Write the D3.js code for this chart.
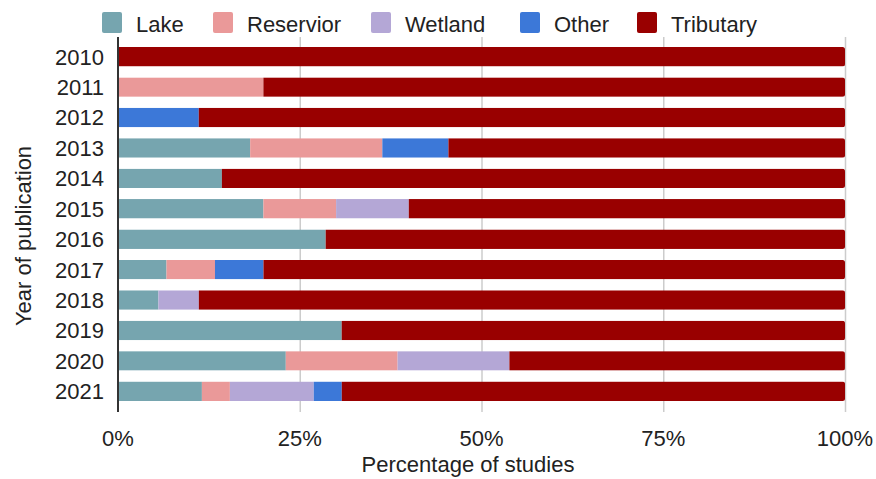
<!DOCTYPE html>
<html><head><meta charset="utf-8">
<script src="https://cdn.jsdelivr.net/npm/d3@7"></script>
<style>body{margin:0;background:#fff}svg{display:block;font-family:"Liberation Sans",Arial,sans-serif}</style>
</head><body><svg id="c" width="876" height="479"></svg>
<script>
const years = ["2010","2011","2012","2013","2014","2015","2016","2017","2018","2019","2020","2021"];
const seriesNames = ["Lake","Reservior","Wetland","Other","Tributary"];
const colors = ["#76a5af","#ea9999","#b4a7d6","#3c78d8","#990000"];
// percentages per year
const lake      = [0, 0, 0, 18.18, 14.29, 20, 28.57, 6.67, 5.56, 30.77, 23.08, 11.54];
const reservior = [0, 20, 0, 18.18, 0, 10, 0, 6.67, 0, 0, 15.38, 3.85];
const wetland   = [0, 0, 0, 0, 0, 10, 0, 0, 5.56, 0, 15.38, 11.54];
const other     = [0, 0, 11.11, 9.09, 0, 0, 0, 6.67, 0, 0, 0, 3.85];
const tributary = [100, 80, 88.89, 54.55, 85.71, 60, 71.43, 80, 88.89, 69.23, 46.15, 69.23];
const xTicks = [0, 25, 50, 75, 100];

const svg = d3.select("#c");
const m = {l:118, r:845, t:37, b:412};
const x = d3.scaleLinear().domain([0,100]).range([m.l, m.r]);
const y = d3.scaleBand().domain(years).range([41.5, 406.5]).paddingInner(0.36).paddingOuter(0.18);

const rows = years.map((yr,i)=>({year:yr, Lake:lake[i], Reservior:reservior[i], Wetland:wetland[i], Other:other[i], Tributary:tributary[i]}));
const stack = d3.stack().keys(seriesNames)(rows);

// grid
svg.append("g").selectAll("line").data(xTicks.slice(1)).join("line")
  .attr("x1",d=>x(d)+0.5).attr("x2",d=>x(d)+0.5).attr("y1",m.t).attr("y2",m.b)
  .attr("stroke","#cccccc").attr("stroke-width",1.5);

// clip paths per row (rounded ends)
const defs = svg.append("defs");
years.forEach((yr,i)=>{
  defs.append("clipPath").attr("id","cp"+i).append("rect")
    .attr("x",x(0)-3).attr("y",y(yr)).attr("width",x(100)-x(0)+3).attr("height",y.bandwidth()).attr("rx",2.5);
});

stack.forEach((s,si)=>{
  svg.append("g").selectAll("rect").data(s).join("rect")
    .attr("clip-path",(d,i)=>`url(#cp${i})`)
    .attr("x",d=>x(d[0])).attr("width",d=>Math.max(0,x(d[1])-x(d[0])))
    .attr("y",d=>y(d.data.year)).attr("height",y.bandwidth())
    .attr("fill",colors[si]);
});

// y axis line
svg.append("line").attr("x1",m.l).attr("x2",m.l).attr("y1",m.t).attr("y2",m.b)
  .attr("stroke","#333").attr("stroke-width",2);

const FS = 22;
// y labels
svg.append("g").selectAll("text").data(years).join("text")
  .attr("x",104).attr("y",d=>y(d)+y.bandwidth()/2).attr("dy","0.36em")
  .attr("text-anchor","end").attr("font-size",FS).attr("fill","#222").text(d=>d);

// x labels
svg.append("g").selectAll("text").data(xTicks).join("text")
  .attr("x",d=>x(d)).attr("y",446).attr("text-anchor","middle")
  .attr("font-size",FS).attr("fill","#222").text(d=>d+"%");

svg.append("text").attr("x",468).attr("y",472).attr("text-anchor","middle")
  .attr("font-size",FS).attr("fill","#222").text("Percentage of studies");
svg.append("text").attr("transform",`translate(31,236) rotate(-90)`)
  .attr("text-anchor","middle").attr("font-size",FS).attr("fill","#222").text("Year of publication");

// legend
const legX = [102, 213, 371, 520, 637];
const lg = svg.append("g").selectAll("g").data(seriesNames).join("g")
  .attr("transform",(d,i)=>`translate(${legX[i]},12)`);
lg.append("rect").attr("width",20).attr("height",21).attr("rx",2).attr("fill",(d,i)=>colors[i]);
lg.append("text").attr("x",34).attr("y",20).attr("font-size",FS).attr("fill","#222").text(d=>d);
</script></body></html>
